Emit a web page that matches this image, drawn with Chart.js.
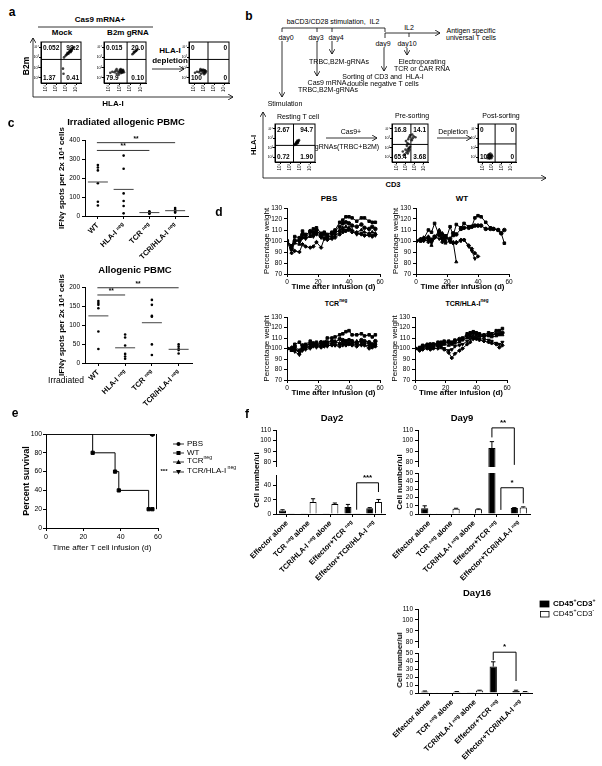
<!DOCTYPE html>
<html>
<head>
<meta charset="utf-8">
<script src="https://cdn.jsdelivr.net/npm/chart.js@4.4.1/dist/chart.umd.min.js"></script>
<style>
  body { margin: 0; background: #fff; }
  #page { position: relative; width: 602px; height: 766px; overflow: hidden; background: #fff;
          font-family: Arial, "Liberation Sans", "DejaVu Sans", sans-serif; color: #000; }
  #page canvas { position: absolute; }
  .t { position: absolute; white-space: nowrap; line-height: 1; color: #000; transform: translate(-50%, -50%); }
  sup { font-size: 65%; vertical-align: super; line-height: 0; }
  svg { position: absolute; left: 0; top: 0; }
</style>
</head>
<body>
<div id="page"></div>
<script>
// ---------- data ----------

// a / b: flow plots (log decades 0..4), quadrant gates and percentages
const flowTicks = [0.5, 1.5, 2.5, 3.5];
const flowTickLabels = ['10¹', '10²', '10³', '10⁴'];
const mockX = [2.3, 2.45, 2.55, 2.6, 2.7, 2.75, 2.8, 2.85, 2.9, 2.95, 3.0, 3.05, 3.1, 3.2, 3.3, 2.65, 2.9, 3.0, 2.2, 2.25];
const mockY = [2.5, 2.65, 2.75, 2.8, 2.9, 2.85, 3.0, 3.05, 3.1, 3.0, 3.2, 3.15, 3.3, 3.4, 3.5, 2.95, 3.2, 3.1, 1.4, 0.9];
const b2mX = [2.7, 2.8, 2.9, 3.0, 3.1, 3.2, 2.85, 3.05, 0.6, 0.8, 1.0, 1.1, 1.2, 1.3, 1.4, 1.5, 1.55, 1.6, 1.65, 1.7, 1.75, 1.8, 1.85, 1.9, 1.5, 1.6, 1.7, 1.8, 1.2, 1.4];
const b2mY = [2.8, 2.9, 3.0, 3.1, 3.2, 3.3, 3.05, 3.15, 1.0, 1.1, 1.05, 1.2, 0.9, 1.15, 1.0, 1.1, 1.2, 0.95, 1.05, 1.15, 1.0, 1.1, 1.2, 1.05, 1.3, 1.35, 1.25, 1.3, 1.35, 0.8];
const deplX = [0.6, 0.8, 1.0, 1.1, 1.2, 1.3, 1.4, 1.5, 1.55, 1.6, 1.65, 1.7, 1.45, 1.35, 1.25, 1.5, 1.6, 1.15];
const deplY = [1.0, 1.1, 1.05, 1.2, 0.9, 1.15, 1.0, 1.1, 1.2, 0.95, 1.05, 1.15, 1.3, 1.3, 1.25, 0.85, 1.25, 1.35];
const restX = [1.95, 2.0, 2.05, 2.1, 2.15, 2.2, 2.25, 2.3, 2.35, 2.4, 2.1, 2.2, 2.3, 2.15, 2.25];
const restY = [1.8, 1.85, 1.9, 1.95, 2.0, 2.05, 2.1, 2.15, 2.2, 2.3, 2.05, 2.15, 2.0, 1.85, 2.25];
const preX = [1.4, 1.6, 1.7, 1.8, 1.9, 2.0, 1.75, 1.85, 1.95, 1.65, 1.55, 1.8, 1.9, 2.2, 2.3, 2.4, 2.25, 1.7, 1.5, 1.85, 2.0, 2.6, 1.2, 1.3];
const preY = [0.8, 1.0, 1.2, 1.4, 1.5, 1.6, 0.9, 1.1, 1.3, 1.7, 2.2, 2.4, 2.6, 2.3, 2.5, 2.7, 2.9, 2.0, 1.3, 1.9, 2.8, 2.6, 1.1, 0.7];
const postX = [1.0, 1.1, 1.2, 1.3, 1.4, 1.5, 1.15, 1.25, 1.35, 1.45, 1.2, 1.3, 1.05, 1.4];
const postY = [0.4, 0.5, 0.6, 0.7, 0.5, 0.6, 0.8, 0.45, 0.65, 0.75, 0.35, 0.9, 0.7, 0.4];
const mockQuad = ['0.052', '98.2', '1.37', '0.41'];
const b2mQuad = ['0.015', '20.0', '79.9', '0.10'];
const deplQuad = ['0', '0', '100', '0'];
const restQuad = ['2.67', '94.7', '0.72', '1.90'];
const preQuad = ['16.8', '14.1', '65.4', '3.68'];
const postQuad = ['0', '0', '100', '0'];

// c: IFN-gamma ELISPOT
const elispotCats = ['WT', 'HLA-I ⁿᵉᵍ', 'TCR ⁿᵉᵍ', 'TCR/HLA-I ⁿᵉᵍ'];
const irrWT = [268, 255, 240, 172, 75, 55];
const irrHLA = [318, 249, 119, 79, 53, 14];
const irrTCR = [25, 20, 18, 15, 12];
const irrDN = [42, 33, 28, 22, 18];
const irrMeans = [179, 140, 18, 28];
const irrTicks = [0, 100, 200, 300, 400];
const alloWT = [163, 158, 153, 144, 83, 37];
const alloHLA = [75, 67, 46, 24, 17, 11];
const alloTCR = [166, 153, 124, 122, 49, 21];
const alloDN = [49, 43, 37, 34, 25];
const alloMeans = [124, 40, 106, 36];
const alloTicks = [0, 50, 100, 150, 200];

// d: body weight (%) after infusion
const weightDays = [0, 3, 5, 8, 10, 12, 15, 17, 19, 22, 24, 26, 29, 31, 34, 36, 38, 40, 42, 45, 48, 50, 53, 55, 57];
const weightXTicks = [0, 20, 40, 60];
const weightYTicks = [70, 80, 90, 100, 110, 120, 130];
const pbsWeights = [
  [100, 95, 104, 103, 109, 106, 108, 111, 112, 107, 108, 106, 108, 110, 117, 119, 122, 122, 121, 118, 121, 121, 118, 117, 117],
  [100, 93, 100, 101, 106, 105, 109, 108, 110, 105, 107, 104, 107, 109, 113, 116, 117, 116, 114, 113, 115, 112, 111, 113, 111],
  [100, 92, 98, 97, 103, 103, 104, 106, 108, 104, 106, 103, 105, 107, 110, 112, 113, 112, 110, 108, 110, 108, 107, 108, 107],
  [100, 96, 101, 99, 103, 102, 105, 104, 106, 103, 103, 102, 103, 105, 108, 110, 110, 111, 109, 106, 107, 105, 106, 105, 105],
  [100, 89, 91, 90, 97, 95, 94, 95, 99, 94, 102, 101, 102, 103, 106, 108, 109, 110, 108, 107, 106, 105, 105, 104, 106]
];
const wtWeights = [
  [100, 100, 102, 110, 108, 116, 105, 106, 100, 113, 105, 115, 112, 116, 113, 113, 121, 123, 122, 117, 112, 111, 110, 107, 98],
  [100, 101, 101, 103, 101, 104, 108, 103, 104, 102, 107, 106, 111, 112, 112, 113, 114, 114, 114, 111, 111, 111, 110, 107, 110],
  [100, 100, 103, 104, 96, 103, 110, 107, 98, 100, 99, 81],
  [100, 101, 100, 101, 99, 104, 102, 101, 105, 99, 98, 98, 100, 101, 95, 91, 84],
  [100, 102, 103, 99, 101, 103, 106, 99, 103, 100, 98, 99, 101, 101, 96, 93, 89, 86]
];
const tcrWeights = [
  [100, 100, 104, 106, 101, 104, 107, 104, 106, 104, 106, 110, 110, 111, 113, 114, 116, 117, 113, 113, 114, 112, 113, 111, 113],
  [100, 99, 102, 98, 103, 103, 104, 105, 103, 106, 104, 106, 107, 106, 109, 108, 107, 108, 107, 105, 108, 107, 106, 104, 107],
  [100, 98, 101, 95, 100, 102, 101, 104, 104, 103, 105, 104, 105, 107, 105, 107, 106, 105, 105, 107, 106, 106, 104, 103, 105],
  [100, 100, 97, 94, 98, 99, 100, 103, 101, 102, 103, 102, 104, 103, 104, 103, 104, 105, 104, 104, 103, 104, 102, 102, 103],
  [100, 101, 99, 97, 99, 101, 102, 102, 103, 101, 102, 103, 103, 103, 102, 105, 103, 104, 103, 102, 104, 103, 100, 101, 102]
];
const dnWeights = [
  [100, 101, 103, 104, 103, 104, 106, 106, 107, 107, 106, 108, 108, 110, 114, 115, 116, 115, 114, 113, 115, 114, 117, 117, 119],
  [100, 100, 102, 103, 104, 104, 104, 105, 105, 106, 105, 107, 109, 109, 112, 113, 115, 114, 113, 112, 113, 113, 114, 114, 115],
  [100, 100, 101, 102, 101, 103, 103, 104, 104, 103, 104, 105, 106, 108, 110, 111, 112, 112, 111, 112, 112, 111, 112, 113, 113],
  [100, 99, 100, 101, 100, 101, 102, 102, 100, 98, 99, 102, 103, 104, 107, 109, 110, 110, 109, 109, 108, 107, 105, 104, 106],
  [100, 98, 99, 100, 99, 100, 100, 101, 99, 96, 91, 95, 98, 100, 104, 106, 109, 109, 108, 107, 106, 105, 104, 101, 103]
];

// e: survival
const survXTicks = [0, 20, 40, 60];
const survYTicks = [0, 20, 40, 60, 80, 100];
const survPbsX = [0, 57], survPbsY = [100, 100];
const survWtX = [0, 25, 37, 39, 55, 57], survWtY = [100, 80, 60, 40, 20, 20];
const survTcrX = [0, 57], survTcrY = [100, 100];
const survDnX = [0, 57], survDnY = [100, 100];

// f: cell counts (CD45+CD3+ / CD45+CD3-), mean and error
const fCats = ['Effector alone', 'TCR ⁿᵉᵍ alone', 'TCR/HLA-I ⁿᵉᵍ alone', 'Effector+TCR ⁿᵉᵍ', 'Effector+TCR/HLA-I ⁿᵉᵍ'];
const upperTicks = [80, 90, 100, 110];
const day2Pos = [5, 0.3, 0.5, 10, 8], day2PosErr = [1, 0, 0, 3.5, 1];
const day2Neg = [0.5, 17, 14, 0.5, 17], day2NegErr = [0, 4.5, 1.5, 0, 3.5];
const day2Ticks = [0, 20, 40];
const day9Pos = [7, 0.5, 0.5, 93, 7.3], day9PosErr = [3, 0, 0, 6, 0.5];
const day9Neg = [1, 6.5, 5.7, 0.5, 7.9], day9NegErr = [0, 0.5, 0.5, 0, 0.8];
const day9Ticks = [0, 10, 20, 30, 40, 50];
const day16Pos = [2, 0, 0.3, 33, 2.5], day16PosErr = [0.5, 0, 0, 6, 1];
const day16Neg = [0.3, 1.5, 3, 0.5, 1.5], day16NegErr = [0, 0.3, 0.5, 0, 0.3];
const day16Ticks = [0, 10, 20, 30, 40, 50];

// ---------- setup ----------
const page = document.getElementById('page');
Chart.defaults.font.family = 'Arial, "Liberation Sans", "DejaVu Sans", sans-serif';
Chart.defaults.font.size = 7;
Chart.defaults.color = '#000';
Chart.defaults.animation = false;
Chart.defaults.responsive = false;
Chart.defaults.devicePixelRatio = 1;
Chart.defaults.plugins.legend.display = false;
Chart.defaults.plugins.tooltip.enabled = false;
Chart.defaults.elements.line.tension = 0;

const fixW = w => s => { s.width = w; s.paddingTop = 0; s.paddingBottom = 0; s.paddingLeft = 0; s.paddingRight = 0; };
const fixH = h => s => { s.height = h; s.paddingLeft = 0; s.paddingRight = 0; s.paddingTop = 0; s.paddingBottom = 0; };

// axis helper: w -> vertical axis of that width, h -> horizontal axis of that height
function ax(o) {
  const a = {
    display: true,
    grid: { drawOnChartArea: false, tickLength: o.tl || 3, color: '#000', lineWidth: 1, offset: false },
    border: { color: '#000', width: 1 },
    ticks: { font: { size: o.fs || 7, weight: o.fw || 'normal' }, padding: o.pad != null ? o.pad : 1,
             maxRotation: o.rot || 0, minRotation: o.rot || 0, autoSkip: false },
    afterFit: o.w != null ? fixW(o.w) : fixH(o.h),
    title: { display: false }
  };
  if (o.type) a.type = o.type;
  if (o.min != null) a.min = o.min;
  if (o.max != null) a.max = o.max;
  if (o.ticks) a.afterBuildTicks = s => { s.ticks = o.ticks.map(v => ({ value: v })); };
  if (o.cb) a.ticks.callback = o.cb;
  if (o.title) a.title = { display: true, text: o.title, font: { size: o.tfs || 8, weight: o.tfw || 'bold' }, padding: 0 };
  return a;
}

// place a canvas so that the plot area lands on [left, top, right, bottom]
function mk(area, fit, config) {
  const [l, t, r, b] = area;
  const W = fit.W || 0, H = fit.H || 0;
  const pad = Object.assign({ left: 0, top: 0, right: 0, bottom: 0 }, fit.pad || {});
  const cx = l - W - pad.left, cy = t - pad.top;
  const cv = document.createElement('canvas');
  cv.width = r + pad.right - cx;
  cv.height = b + H + pad.bottom - cy;
  cv.style.left = cx + 'px';
  cv.style.top = cy + 'px';
  page.appendChild(cv);
  config.options = config.options || {};
  config.options.layout = { padding: pad };
  return new Chart(cv, config);
}

function text(x, y, html, size, bold, css) {
  const d = document.createElement('div');
  d.className = 't';
  d.innerHTML = html;
  d.style.left = x + 'px';
  d.style.top = y + 'px';
  d.style.fontSize = size + 'px';
  if (bold) d.style.fontWeight = 'bold';
  if (css) d.style.cssText += css;
  page.appendChild(d);
}
const ROT = 'transform:translate(-50%,-50%) rotate(-90deg);';
const LEFT = 'transform:translate(0,-50%);';

// ---------- plugins ----------
const quadPlugin = {
  id: 'quad',
  afterDatasetsDraw(chart, args, o) {
    if (!o || !o.labels) return;
    const { ctx, chartArea: a, scales: { x, y } } = chart;
    const px = x.getPixelForValue(o.x), py = y.getPixelForValue(o.y);
    ctx.save();
    ctx.strokeStyle = '#000';
    ctx.lineWidth = 1;
    ctx.strokeRect(a.left, a.top, a.right - a.left, a.bottom - a.top);
    ctx.beginPath();
    ctx.moveTo(px, a.top); ctx.lineTo(px, a.bottom);
    ctx.moveTo(a.left, py); ctx.lineTo(a.right, py);
    ctx.stroke();
    ctx.fillStyle = '#000';
    ctx.font = 'bold 6.5px Arial, "Liberation Sans", sans-serif';
    const [ul, ur, ll, lr] = o.labels;
    ctx.textBaseline = 'top';
    ctx.textAlign = 'left'; ctx.fillText(ul, a.left + 2, a.top + 3);
    ctx.textAlign = 'right'; ctx.fillText(ur, a.right - 2, a.top + 3);
    ctx.textBaseline = 'bottom';
    ctx.textAlign = 'left'; ctx.fillText(ll, a.left + 2, a.bottom - 2);
    ctx.textAlign = 'right'; ctx.fillText(lr, a.right - 2, a.bottom - 2);
    ctx.restore();
  }
};

const meanPlugin = {
  id: 'means',
  afterDatasetsDraw(chart, args, o) {
    if (!o || !o.values) return;
    const { ctx, scales: { x, y } } = chart;
    ctx.save();
    ctx.strokeStyle = '#444';
    ctx.lineWidth = 1;
    o.values.forEach((v, i) => {
      const px = x.getPixelForValue(i), py = y.getPixelForValue(v);
      ctx.beginPath(); ctx.moveTo(px - 10, py); ctx.lineTo(px + 10, py); ctx.stroke();
    });
    (o.sig || []).forEach(s => {
      const x1 = x.getPixelForValue(s.from) - 1, x2 = x.getPixelForValue(s.to), py = y.getPixelForValue(s.y);
      ctx.strokeStyle = '#333';
      ctx.beginPath(); ctx.moveTo(x1, py); ctx.lineTo(x2, py); ctx.stroke();
      ctx.fillStyle = '#000';
      ctx.font = 'bold 6.5px Arial, "Liberation Sans", sans-serif';
      ctx.textAlign = 'center'; ctx.textBaseline = 'bottom';
      ctx.fillText(s.text, (x1 + x2) / 2, py - 0.5);
    });
    ctx.restore();
  }
};

const errPlugin = {
  id: 'errbars',
  afterDatasetsDraw(chart, args, o) {
    if (!o || !o.errors) return;
    const { ctx, chartArea: a } = chart;
    const ys = chart.scales.y;
    ctx.save();
    ctx.beginPath();
    ctx.rect(a.left, a.top, a.right - a.left, a.bottom - a.top);
    ctx.clip();
    ctx.strokeStyle = '#000';
    ctx.lineWidth = 1;
    o.errors.forEach((errs, di) => {
      chart.getDatasetMeta(di).data.forEach((bar, i) => {
        const e = errs[i];
        if (!e) return;
        const v = chart.data.datasets[di].data[i];
        const y0 = ys.getPixelForValue(v), y1 = ys.getPixelForValue(v + e);
        const hw = bar.width * 0.3;
        ctx.beginPath();
        ctx.moveTo(bar.x, y0); ctx.lineTo(bar.x, y1);
        ctx.moveTo(bar.x - hw, y1); ctx.lineTo(bar.x + hw, y1);
        ctx.stroke();
      });
    });
    ctx.restore();
  }
};

const bracketPlugin = {
  id: 'brackets',
  afterDatasetsDraw(chart, args, o) {
    if (!o || !o.list) return;
    const { ctx } = chart;
    const ys = chart.scales.y;
    ctx.save();
    ctx.strokeStyle = '#000';
    ctx.fillStyle = '#000';
    ctx.lineWidth = 1;
    ctx.font = 'bold 8px Arial, "Liberation Sans", sans-serif';
    ctx.textAlign = 'center';
    ctx.textBaseline = 'bottom';
    o.list.forEach(b => {
      const xa = chart.getDatasetMeta(b.a[1]).data[b.a[0]].x;
      const xb = chart.getDatasetMeta(b.b[1]).data[b.b[0]].x;
      const yt = ys.getPixelForValue(b.top);
      ctx.beginPath();
      ctx.moveTo(xa, ys.getPixelForValue(b.ya));
      ctx.lineTo(xa, yt); ctx.lineTo(xb, yt);
      ctx.lineTo(xb, ys.getPixelForValue(b.yb));
      ctx.stroke();
      if (b.text) ctx.fillText(b.text, (xa + xb) / 2, yt - 1);
    });
    ctx.restore();
  }
};

const vlinePlugin = {
  id: 'vline',
  afterDatasetsDraw(chart, args, o) {
    if (!o || o.x == null) return;
    const { ctx, scales: { x, y } } = chart;
    const px = x.getPixelForValue(o.x);
    ctx.save();
    ctx.strokeStyle = '#000';
    ctx.lineWidth = 1;
    ctx.beginPath();
    ctx.moveTo(px, y.getPixelForValue(o.y1));
    ctx.lineTo(px, y.getPixelForValue(o.y2));
    ctx.stroke();
    ctx.fillStyle = '#000';
    ctx.font = 'bold 6px Arial, "Liberation Sans", sans-serif';
    ctx.textAlign = 'left';
    ctx.textBaseline = 'middle';
    ctx.fillText(o.text, px + 4, y.getPixelForValue((o.y1 + o.y2) / 2));
    ctx.restore();
  }
};

Chart.register(quadPlugin, meanPlugin, errPlugin, bracketPlugin, vlinePlugin);

// ---------- schematic lines (a, b) ----------
const segs = [
  // [x1, y1, x2, y2, arrowhead]
  [38, 27, 153, 27, 0], [152, 69, 184, 69, 1], [33, 97, 33, 38, 1], [33, 97, 233, 97, 1],
  [282, 28, 385, 28, 0], [282, 28, 282, 32, 0], [317, 28, 317, 32, 0], [332, 28, 332, 32, 0], [385, 28, 385, 32, 0],
  [385, 33, 440, 33, 1], [385, 33, 385, 38, 0], [409, 33, 409, 37, 0],
  [332, 41, 332, 54, 1], [317, 41, 317, 76, 1], [384, 48, 384, 71, 1], [407, 48, 407, 55, 1], [282, 41, 282, 97, 1],
  [326, 138, 377, 138, 1], [437, 138, 471, 138, 1], [263, 178, 263, 112, 1], [263, 178, 546, 178, 1]
];
let svg = '<svg width="602" height="766" xmlns="http://www.w3.org/2000/svg"><defs>' +
  '<marker id="ah" markerWidth="6" markerHeight="6" refX="5" refY="3" orient="auto" markerUnits="userSpaceOnUse">' +
  '<path d="M0,0 L5,3 L0,6" fill="none" stroke="#000" stroke-width="0.8"/></marker></defs>';
segs.forEach(s => {
  svg += `<line x1="${s[0]}" y1="${s[1]}" x2="${s[2]}" y2="${s[3]}" stroke="#000" stroke-width="0.8"${s[4] ? ' marker-end="url(#ah)"' : ''}/>`;
});
// legend symbols for e and f
const eLegY = [444, 453, 462, 472];
eLegY.forEach(y => { svg += `<line x1="173" y1="${y}" x2="184" y2="${y}" stroke="#000" stroke-width="0.8"/>`; });
svg += '<circle cx="178.5" cy="444" r="2" fill="#000"/>';
svg += '<rect x="176.5" y="451" width="4" height="4" fill="#000"/>';
svg += '<path d="M178.5,459.5 L181,464 L176,464 Z" fill="#000"/>';
svg += '<path d="M178.5,474.5 L181,470 L176,470 Z" fill="#000"/>';
svg += '<rect x="540" y="601" width="9" height="6" fill="#000" stroke="#000" stroke-width="0.8"/>';
svg += '<rect x="540.5" y="611.5" width="8.5" height="5.5" fill="#fff" stroke="#000" stroke-width="0.8"/>';
svg += '</svg>';
page.insertAdjacentHTML('beforeend', svg);

// ---------- flow plots ----------
function flowChart(area, xs, ys, gate, labels) {
  return mk(area, { W: 7, H: 9, pad: { top: 1, right: 1 } }, {
    type: 'scatter',
    data: { datasets: [{ data: xs.map((x, i) => ({ x, y: ys[i] })), pointRadius: 1.3, backgroundColor: 'rgba(0,0,0,0.75)', borderWidth: 0 }] },
    options: {
      scales: {
        x: ax({ h: 9, min: 0, max: 4, ticks: flowTicks, fs: 4.5, rot: 90, tl: 2, pad: 0, cb: (v, i) => flowTickLabels[i] }),
        y: ax({ w: 7, min: 0, max: 4, ticks: flowTicks, fs: 4, tl: 2, pad: 0, cb: (v, i) => flowTickLabels[i] })
      },
      plugins: { quad: { x: gate[0], y: gate[1], labels } }
    }
  });
}
flowChart([41, 39, 84, 83], mockX, mockY, [2.0, 2.3], mockQuad);
flowChart([104, 39, 149, 83], b2mX, b2mY, [2.2, 2.3], b2mQuad);
flowChart([189, 39, 232, 83], deplX, deplY, [1.9, 2.3], deplQuad);
flowChart([275, 121, 318, 162], restX, restY, [1.85, 1.75], restQuad);
flowChart([392, 121, 431, 162], preX, preY, [2.1, 1.85], preQuad);
flowChart([478, 121, 519, 162], postX, postY, [1.8, 1.9], postQuad);

// ---------- c: ELISPOT scatter ----------
function elispotChart(area, groups, means, maxY, ticks, sig) {
  return mk(area, { W: 28, H: 50, pad: { top: 22, right: 4, left: 0 } }, {
    type: 'scatter',
    data: { datasets: groups.map((g, gi) => ({ data: g.map(v => ({ x: gi, y: v })), pointRadius: 1.3, backgroundColor: '#000', borderWidth: 0 })) },
    options: {
      scales: {
        x: ax({ h: 50, min: -0.5, max: 3.5, ticks: [0, 1, 2, 3], fs: 7.5, fw: 'bold', rot: 45, pad: 2, cb: v => elispotCats[v] }),
        y: ax({ w: 28, min: 0, max: maxY, ticks, fs: 6.5, pad: 2, title: 'IFNγ spots per 2x 10⁴ cells', tfs: 8 })
      },
      plugins: { means: { values: means, sig } }
    }
  });
}
elispotChart([85, 140, 188, 216], [irrWT, irrHLA, irrTCR, irrDN], irrMeans, 400, irrTicks,
  [{ from: 0, to: 2, y: 345, text: '**' }, { from: 0, to: 3, y: 386, text: '**' }]);
elispotChart([85, 287, 192, 363], [alloWT, alloHLA, alloTCR, alloDN], alloMeans, 200, alloTicks,
  [{ from: 0, to: 1, y: 179, text: '**' }, { from: 0, to: 3, y: 198, text: '**' }]);

// ---------- d: weight curves ----------
const markerStyles = ['rect', 'circle', 'triangle', 'triangle', 'rectRot'];
const markerRot = [0, 0, 0, 180, 0];
function weightChart(area, series) {
  return mk(area, { W: 25, H: 18, pad: { top: 4, right: 6 } }, {
    type: 'line',
    data: {
      datasets: series.map((s, i) => ({
        data: s.map((v, j) => ({ x: weightDays[j], y: v })),
        borderColor: '#000', backgroundColor: '#000', borderWidth: 1,
        pointStyle: markerStyles[i], rotation: markerRot[i], pointRadius: 1.8
      }))
    },
    options: {
      scales: {
        x: ax({ type: 'linear', h: 18, min: 0, max: 60, ticks: weightXTicks, fs: 6.5, title: 'Time after infusion (d)', tfs: 8 }),
        y: ax({ w: 25, min: 70, max: 130, ticks: weightYTicks, fs: 6.5, pad: 2, title: 'Percentage weight', tfs: 8, tfw: 'normal' })
      }
    }
  });
}
weightChart([287, 207, 380, 274], pbsWeights);
weightChart([416, 207, 509, 274], wtWeights);
weightChart([287, 316, 380, 380], tcrWeights);
weightChart([415, 316, 507, 380], dnWeights);

// ---------- e: survival ----------
const survStyles = ['circle', 'rect', 'triangle', 'triangle'];
const survRot = [0, 0, 0, 180];
mk([46, 434, 158, 528], { W: 25, H: 25, pad: { top: 6, right: 14 } }, {
  type: 'line',
  data: {
    datasets: [[survPbsX, survPbsY], [survWtX, survWtY], [survTcrX, survTcrY], [survDnX, survDnY]].map((s, i) => ({
      data: s[0].map((x, j) => ({ x, y: s[1][j] })),
      stepped: true, borderColor: '#000', backgroundColor: '#000', borderWidth: 1,
      pointStyle: survStyles[i], rotation: survRot[i],
      pointRadius: c => (c.dataIndex === 0 ? 0 : 2.3)
    }))
  },
  options: {
    scales: {
      x: ax({ type: 'linear', h: 25, min: 0, max: 60, ticks: survXTicks, fs: 7, pad: 2, title: 'Time after T cell infusion (d)', tfs: 8, tfw: 'normal' }),
      y: ax({ w: 25, min: 0, max: 100, ticks: survYTicks, fs: 6.8, pad: 1, title: 'Percent survival', tfs: 9 })
    },
    plugins: { vline: { x: 59.2, y1: 100, y2: 20, text: '***' } }
  }
});

// ---------- f: cell numbers with broken axis ----------
function barSet(pos, neg) {
  return [
    { data: pos, backgroundColor: '#000', borderColor: '#000', borderWidth: 1, categoryPercentage: 0.8, barPercentage: 0.8 },
    { data: neg, backgroundColor: '#fff', borderColor: '#000', borderWidth: 1, categoryPercentage: 0.8, barPercentage: 0.8 }
  ];
}
function dayChart(upArea, lowArea, upMin, lowMax, lowTicks, pos, neg, posErr, negErr, upBr, lowBr) {
  mk(upArea, { W: 16, pad: { top: 14, right: 6 } }, {
    type: 'bar',
    data: { labels: fCats, datasets: barSet(pos, neg) },
    options: {
      scales: {
        x: { display: false },
        y: ax({ w: 16, min: upMin, max: 110, ticks: upperTicks, fs: 6.5, pad: 2 })
      },
      plugins: { errbars: { errors: [posErr, negErr] }, brackets: { list: upBr } }
    }
  });
  mk(lowArea, { W: 16, H: 80, pad: { left: 40, right: 6, top: 12 } }, {
    type: 'bar',
    data: { labels: fCats, datasets: barSet(pos, neg) },
    options: {
      scales: {
        x: ax({ h: 80, fs: 7.5, fw: 'bold', rot: 45, pad: 2 }),
        y: ax({ w: 16, min: 0, max: lowMax, ticks: lowTicks, fs: 6.5, pad: 2 })
      },
      plugins: { errbars: { errors: [posErr, negErr] }, brackets: { list: lowBr } }
    }
  });
}
dayChart([276, 430, 385, 467], [276, 475, 385, 514], 75, 55, day2Ticks, day2Pos, day2Neg, day2PosErr, day2NegErr,
  [], [{ a: [3, 1], b: [4, 1], top: 44, ya: 6, yb: 31, text: '***' }]);
dayChart([418, 430, 530, 467], [418, 473, 530, 514], 75, 50, day9Ticks, day9Pos, day9Neg, day9PosErr, day9NegErr,
  [{ a: [3, 0], b: [4, 0], top: 112, ya: 103, yb: 77, text: '**' }],
  [{ a: [3, 1], b: [4, 1], top: 32, ya: 5, yb: 13, text: '*' }]);
dayChart([418, 609, 532, 648], [418, 653, 532, 693], 74.5, 50, day16Ticks, day16Pos, day16Neg, day16PosErr, day16NegErr,
  [], [{ a: [3, 0], b: [4, 0], top: 51, ya: 41, yb: 15, text: '*' }]);

// ---------- text ----------
// a
text(12, 12, 'a', 12, true);
text(100, 20, 'Cas9 mRNA+', 8, true);
text(62, 33, 'Mock', 8, true);
text(128, 33, 'B2m gRNA', 8, true);
text(170, 51, 'HLA-I', 8, true);
text(170, 61, 'depletion', 8, true);
text(26, 66, 'B2m', 8.5, true, ROT);
text(113, 104, 'HLA-I', 8, true);
// b
text(249, 16, 'b', 12, true);
text(333, 21, 'baCD3/CD28 stimulation,&nbsp; IL2', 7);
text(286, 37, 'day0', 7);
text(316, 37, 'day3', 7);
text(336, 37, 'day4', 7);
text(383, 43, 'day9', 7);
text(407, 43, 'day10', 7);
text(409, 27, 'IL2', 7);
text(471, 30, 'Antigen specific', 7);
text(471, 37, 'universal T cells', 7);
text(339, 61, 'TRBC,B2M-gRNAs', 7);
text(422, 61, 'Electroporating', 7);
text(422, 68, 'TCR or CAR RNA', 7);
text(383, 76, 'Sorting of CD3 and&nbsp; HLA-I', 7);
text(383, 83, 'double negative T cells', 7);
text(328, 82, 'Cas9 mRNA,', 7);
text(328, 89, 'TRBC,B2M-gRNAs', 7);
text(285, 103, 'Stimulation', 7);
text(298, 116, 'Resting T cell', 7);
text(412, 115, 'Pre-sorting', 7);
text(501, 115, 'Post-sorting', 7);
text(351, 131, 'Cas9+', 7);
text(347, 146, 'gRNAs(TRBC+B2M)', 7);
text(453, 131, 'Depletion', 7);
text(254, 145, 'HLA-I', 7.5, true, ROT);
text(393, 185, 'CD3', 7.5, true);
// c
text(11, 123, 'c', 12, true);
text(126, 122, 'Irradiated allogenic PBMC', 9.5, true);
text(135, 270, 'Allogenic PBMC', 9.5, true);
text(66, 380, 'Irradiated', 8.5);
// d
text(219, 212, 'd', 12, true);
text(329, 199, 'PBS', 8, true);
text(462, 199, 'WT', 8, true);
text(336, 303, 'TCR<sup>neg</sup>', 7, true);
text(467, 303, 'TCR/HLA-I<sup>neg</sup>', 7, true);
// e
text(15, 413, 'e', 12, true);
text(187, 444, 'PBS', 8, false, LEFT);
text(187, 453, 'WT', 8, false, LEFT);
text(187, 461, 'TCR<sup>neg</sup>', 8, false, LEFT);
text(187, 471, 'TCR/HLA-I<sup> neg</sup>', 8, false, LEFT);
// f
text(247, 414, 'f', 12, true);
text(332, 418, 'Day2', 9.5, true);
text(462, 418, 'Day9', 9.5, true);
text(477, 593, 'Day16', 9.5, true);
text(257, 480, 'Cell number/ul', 8, true, ROT);
text(400, 482, 'Cell number/ul', 8, true, ROT);
text(400, 660, 'Cell number/ul', 8, true, ROT);
text(553, 604, 'CD45<sup>+</sup>CD3<sup>+</sup>', 8, true, LEFT);
text(553, 614, 'CD45<sup>+</sup>CD3<sup>-</sup>', 8, false, LEFT);
</script>
</body>
</html>
